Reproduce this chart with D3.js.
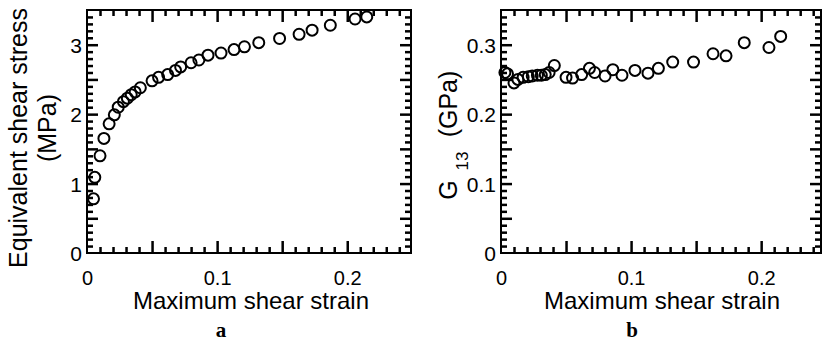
<!DOCTYPE html>
<html><head><meta charset="utf-8">
<script src="https://cdn.jsdelivr.net/npm/d3@7/dist/d3.min.js"></script>
<style>body{margin:0;background:#fff}svg{display:block}</style>
</head><body>
<script>
// ---- data ----
const strainA = [0.005,0.006,0.010,0.013,0.017,0.021,0.024,0.028,0.031,0.034,0.037,0.041,0.050,0.055,0.062,0.068,0.072,0.080,0.086,0.093,0.103,0.113,0.121,0.132,0.148,0.163,0.173,0.187,0.206,0.215];
const stressA = [0.78,1.09,1.40,1.65,1.86,1.99,2.10,2.18,2.23,2.28,2.32,2.38,2.48,2.53,2.57,2.63,2.68,2.74,2.78,2.85,2.88,2.93,2.97,3.03,3.09,3.15,3.21,3.28,3.37,3.40];
const strainB = [0.003,0.005,0.010,0.013,0.017,0.021,0.024,0.028,0.031,0.034,0.037,0.041,0.050,0.055,0.062,0.068,0.072,0.080,0.086,0.093,0.103,0.113,0.121,0.132,0.148,0.163,0.173,0.187,0.206,0.215];
const modulusB = [0.260,0.258,0.245,0.250,0.253,0.254,0.255,0.256,0.256,0.257,0.260,0.270,0.253,0.252,0.257,0.266,0.260,0.255,0.264,0.256,0.263,0.259,0.266,0.275,0.275,0.287,0.284,0.303,0.296,0.312];
const xTickValues = [0, 0.1, 0.2];
const xTickLabels = ["0","0.1","0.2"];
const xMinorTicks = [0.01,0.02,0.03,0.04,0.05,0.06,0.07,0.08,0.09,0.1,0.11,0.12,0.13,0.14,0.15,0.16,0.17,0.18,0.19,0.2,0.21,0.22,0.23,0.24];
const yTickValuesA = [0, 1, 2, 3];
const yTickLabelsA = ["0","1","2","3"];
const yTickValuesB = [0, 0.1, 0.2, 0.3];
const yTickLabelsB = ["0","0.1","0.2","0.3"];
const panelLetters = ["a","b"];

const W = 824, H = 343;
const svg = d3.select("body").append("svg").attr("width", W).attr("height", H);
const FONT = "'Liberation Sans', Arial, sans-serif";

function panel(opt) {
  const left = opt.left, right = opt.right, top = opt.top, bottom = opt.bottom;
  const x = d3.scaleLinear().domain([0, opt.xMaxVisible]).range([left, right]);
  const y = d3.scaleLinear().domain([0, opt.yMax]).range([bottom, top]);
  const g = svg.append("g");

  const yMinorTicks = [];
  for (let i = 1; i < opt.yCount; i++) yMinorTicks.push(+(i * opt.yMinor).toFixed(4));
  const xMaj = xMinorTicks.filter(d => Math.round(d * 100) % 5 === 0);
  const xMin = xMinorTicks.filter(d => Math.round(d * 100) % 5 !== 0);
  const yMaj = yMinorTicks.filter(d => Math.round(d / opt.yMinor) % 5 === 0);
  const yMin = yMinorTicks.filter(d => Math.round(d / opt.yMinor) % 5 !== 0);

  // frame
  g.append("rect").attr("x", left).attr("y", top).attr("width", right - left).attr("height", bottom - top)
    .attr("fill", "none").attr("stroke", "#000").attr("stroke-width", 2);

  // inward ticks on all four sides, built with d3 axes (labels blank)
  function ax(gen, vals, size, tr) {
    const a = g.append("g").attr("transform", tr)
      .call(gen.tickValues(vals).tickSize(size).tickSizeOuter(0).tickFormat(() => ""));
    a.select(".domain").remove();
    a.selectAll(".tick line").attr("stroke", "#000").attr("stroke-width", 2.5);
  }
  ax(d3.axisBottom(x), xMin, -6, `translate(0,${bottom})`);
  ax(d3.axisBottom(x), xMaj, -12, `translate(0,${bottom})`);
  ax(d3.axisTop(x), xMin, -6, `translate(0,${top})`);
  ax(d3.axisTop(x), xMaj, -12, `translate(0,${top})`);
  ax(d3.axisLeft(y), yMin, -6, `translate(${left},0)`);
  ax(d3.axisLeft(y), yMaj, -11, `translate(${left},0)`);
  ax(d3.axisRight(y), yMin, -6, `translate(${right},0)`);
  ax(d3.axisRight(y), yMaj, -11, `translate(${right},0)`);

  // tick labels via axes
  const xl = g.append("g").attr("transform", `translate(0,${bottom})`)
    .call(d3.axisBottom(x).tickValues(xTickValues).tickSize(0).tickFormat((d, i) => xTickLabels[i]));
  xl.select(".domain").remove();
  xl.selectAll("text").attr("font-family", FONT).attr("font-size", 20).attr("fill", "#000")
    .attr("y", 32).attr("dy", 0);

  const yl = g.append("g").attr("transform", `translate(${left - 5},0)`)
    .call(d3.axisLeft(y).tickValues(opt.yVals).tickSize(0).tickFormat((d, i) => opt.yLabels[i]));
  yl.select(".domain").remove();
  yl.selectAll("text").attr("font-family", FONT).attr("font-size", 21).attr("fill", "#000")
    .attr("x", 0).attr("dy", "0.36em");

  // points
  g.append("g").selectAll("circle").data(opt.xs.map((v, i) => [v, opt.ys[i]])).join("circle")
    .attr("cx", d => x(d[0])).attr("cy", d => y(d[1])).attr("r", 5.5)
    .attr("fill", "none").attr("stroke", "#000").attr("stroke-width", 2);

  // x title
  g.append("text").attr("x", opt.titleX).attr("y", 309).attr("text-anchor", "middle")
    .attr("font-family", FONT).attr("font-size", 24).text("Maximum shear strain");
  // panel letter
  g.append("text").attr("x", opt.letterX).attr("y", 337).attr("text-anchor", "middle")
    .attr("font-family", "'Liberation Serif', 'Times New Roman', serif").attr("font-weight", "bold")
    .attr("font-size", 21).text(opt.letter);
  return g;
}

panel({left: 87, right: 411, top: 10, bottom: 253, xMaxVisible: 0.249, xs: strainA, ys: stressA,
  yMax: 3.5, yMinor: 0.1, yCount: 35, yVals: yTickValuesA, yLabels: yTickLabelsA,
  letter: panelLetters[0], letterX: 221, titleX: 251});
panel({left: 501, right: 821, top: 10, bottom: 253, xMaxVisible: 0.246, xs: strainB, ys: modulusB,
  yMax: 0.35, yMinor: 0.01, yCount: 35, yVals: yTickValuesB, yLabels: yTickLabelsB,
  letter: panelLetters[1], letterX: 632, titleX: 662});

// y titles
function vtext(x, y, size, str) {
  return svg.append("text").attr("transform", `translate(${x},${y}) rotate(-90)`).attr("text-anchor", "middle")
    .attr("font-family", FONT).attr("font-size", size).text(str);
}
vtext(27, 138, 25, "Equivalent shear stress");
vtext(56, 128, 25, "(MPa)");
vtext(457, 190, 25, "G");
vtext(468, 161, 17, "13");
vtext(457, 104, 25, "(GPa)");
</script>
</body></html>
